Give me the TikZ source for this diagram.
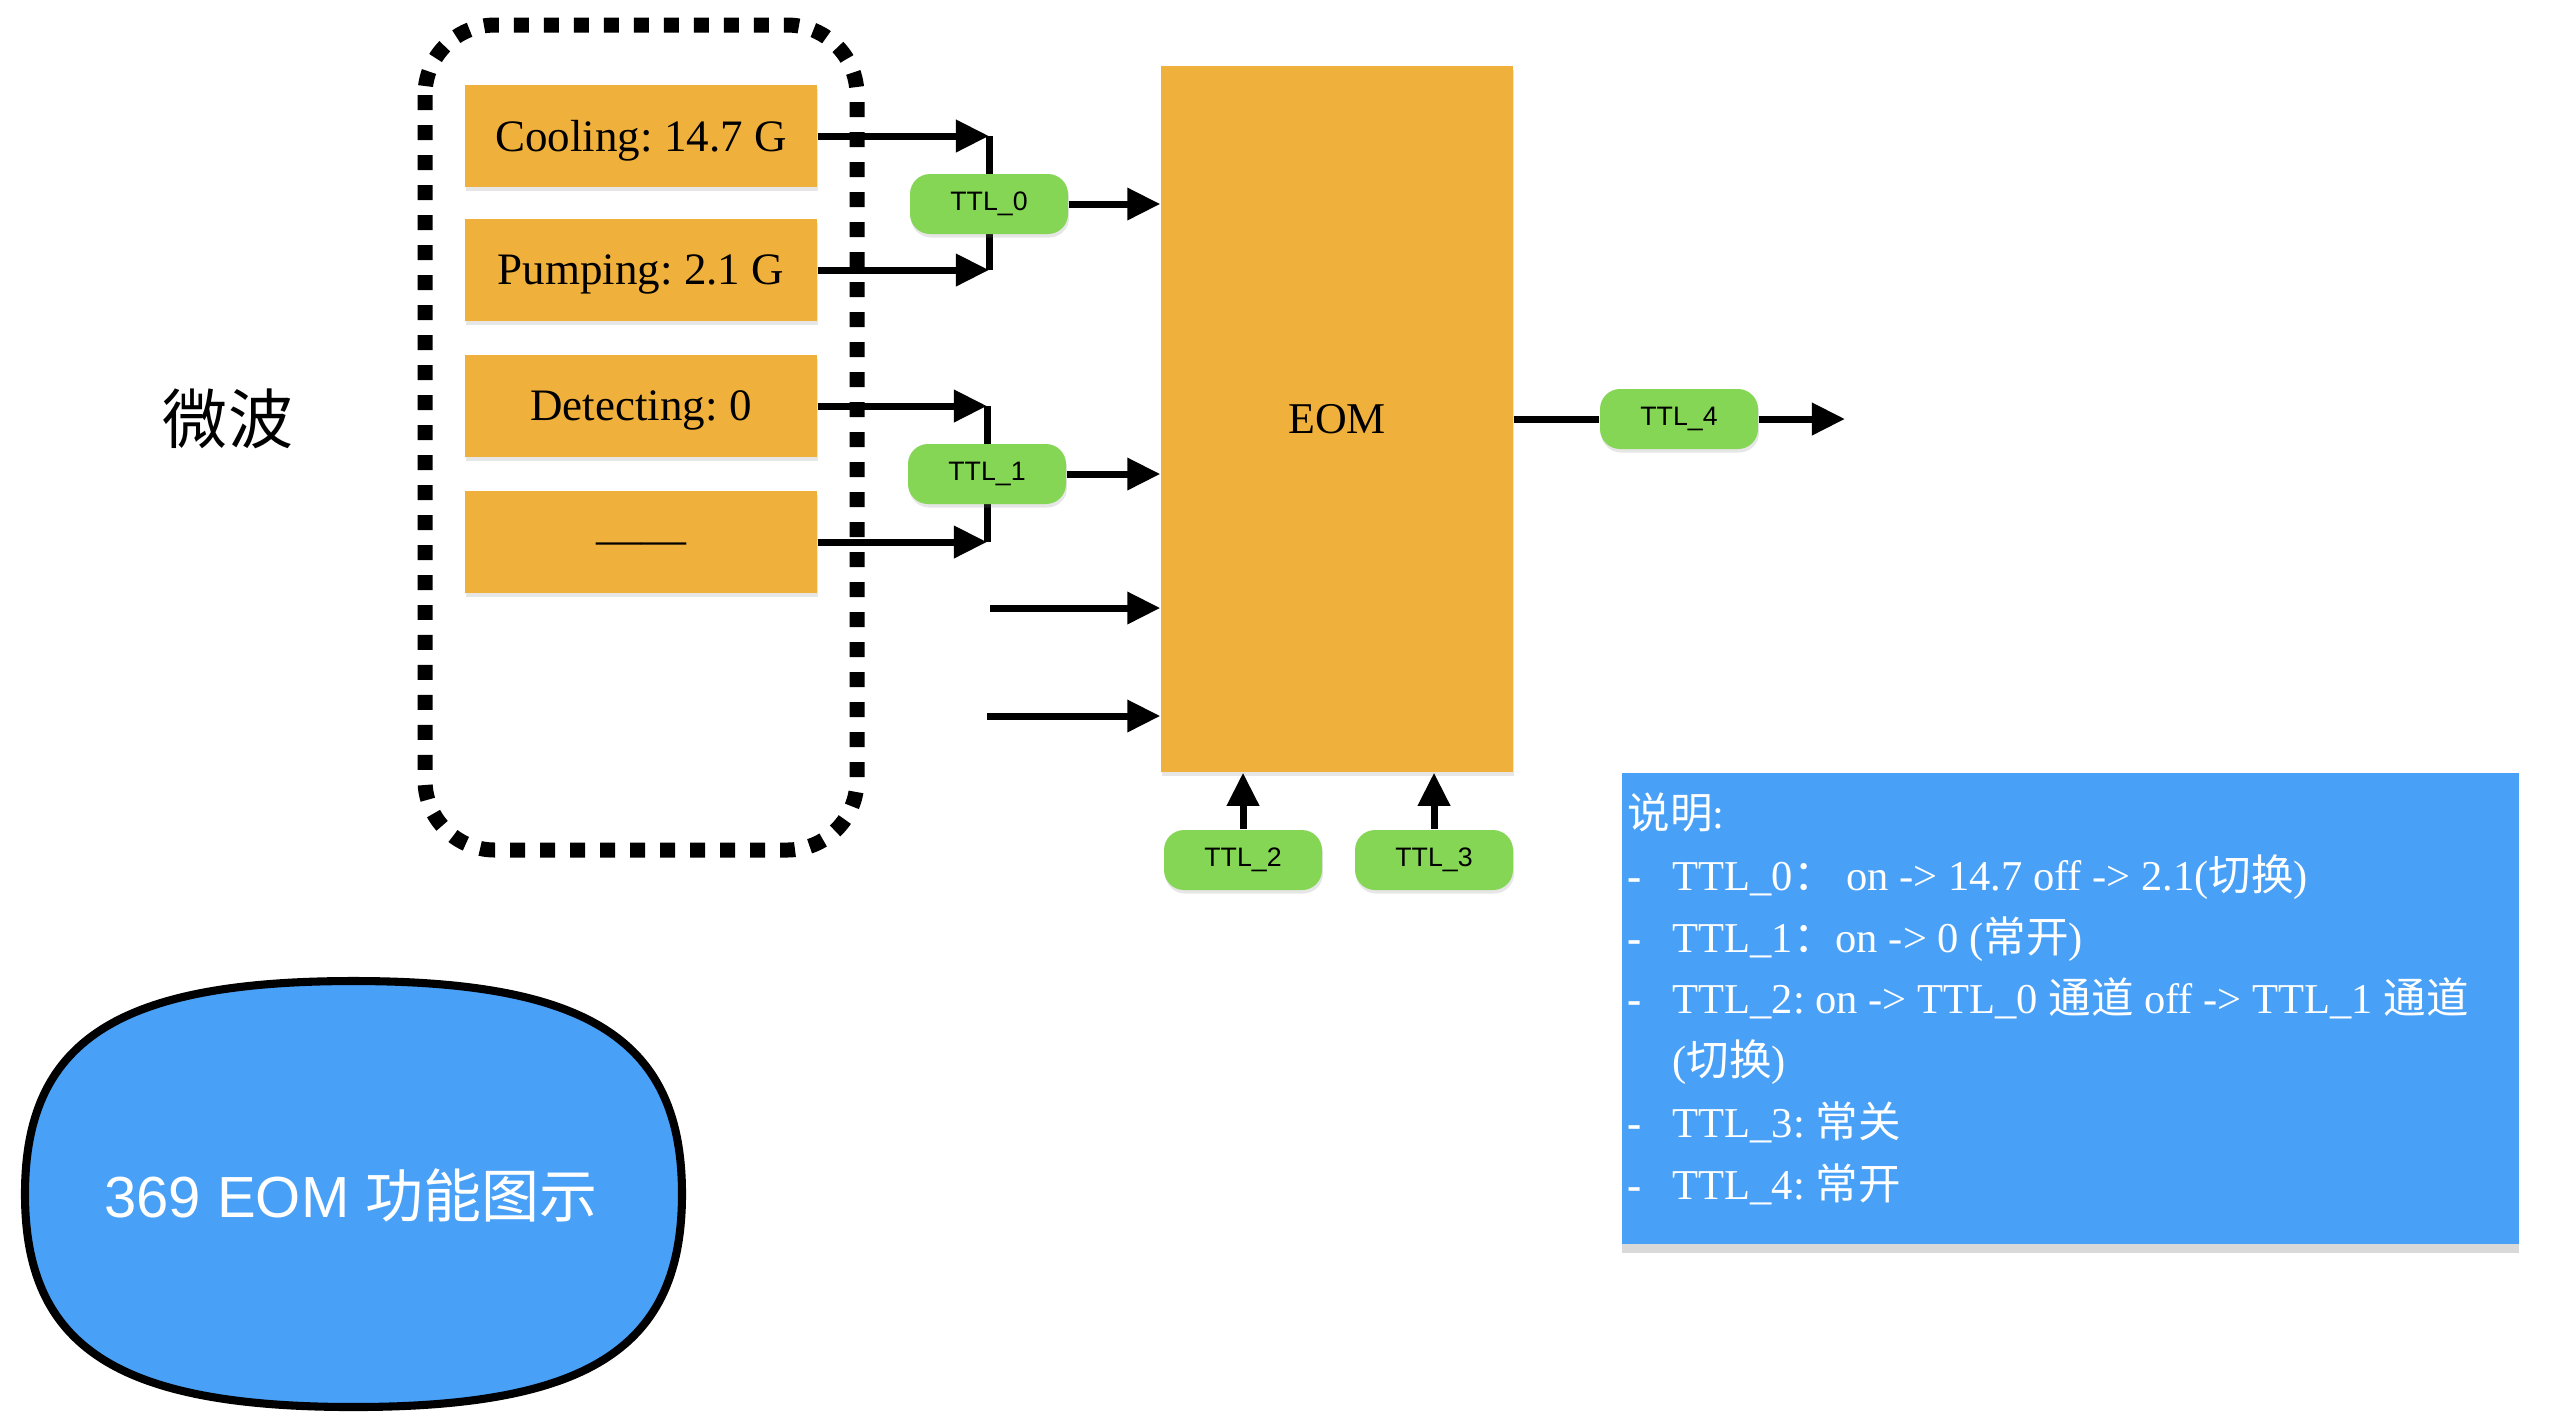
\documentclass[tikz,border=0pt]{standalone}
\usepackage{fontspec}
\setmainfont{Liberation Serif}
\setsansfont{Liberation Sans}
\newfontfamily\cjk{Noto Sans CJK SC}
\usetikzlibrary{arrows.meta, positioning, shadows, backgrounds}
\definecolor{boxorange}{HTML}{F0B03C}
\definecolor{ttlgreen}{HTML}{84D654}
\definecolor{noteblue}{HTML}{49A0F7}
\frenchspacing

\tikzset{
  srcbox/.style={fill=boxorange, minimum width=3.52cm, minimum height=1.02cm, inner sep=0pt,
    text depth=0pt, font=\fontsize{12.8}{15}\selectfont,
    drop shadow={opacity=0.2, shadow xshift=0.3pt, shadow yshift=-1.2pt}},
  ttl/.style={fill=ttlgreen, rounded corners=0.2cm, minimum width=1.58cm, minimum height=0.6cm,
    inner sep=0pt, font=\sffamily\fontsize{7.6}{9}\selectfont,
    drop shadow={opacity=0.2, shadow xshift=0.3pt, shadow yshift=-1pt}},
  wire/.style={line width=2pt},
  sig/.style={wire, -{Triangle[length=9.4pt, width=8.8pt]}},
}

\begin{document}
\begin{tikzpicture}
  \useasboundingbox (0,0) rectangle (25.58,-14.16);

  % microwave sources
  \draw[line width=0.15cm, dash pattern=on 0.15cm off 0.15cm, rounded corners=0.7cm]
    (4.25,-0.25) rectangle (8.57,-8.5);
  \node[font=\cjk\fontsize{18.5}{20}\selectfont] (mw) at (2.28,-4.19) {微波};
  \foreach \name/\y/\txt in {cool/1.36/{Cooling: 14.7 G}, pump/2.70/{Pumping: 2.1 G},
      det/4.06/{Detecting: 0}, spare/5.42/{\smash{\raisebox{-3.5pt}{——}}}}
    \node[srcbox] (\name) at (6.41,-\y) {\txt};

  % modulator
  \node[srcbox, minimum height=7.06cm, font=\fontsize{12.5}{15}\selectfont] (eom) at (13.37,-4.19) {EOM};

  % ttl switches
  \node[ttl] (tt0) at (9.89,-2.04) {TTL\_0};
  \node[ttl] (tt1) at (9.87,-4.74) {TTL\_1};
  \node[ttl] (tt2) at (12.43,-8.60) {TTL\_2};
  \node[ttl] (tt3) at (14.34,-8.60) {TTL\_3};
  \node[ttl] (tt4) at (16.79,-4.19) {TTL\_4};

  \begin{scope}[on background layer]
    \draw[wire] (cool.east -| tt0) -- (pump.east -| tt0);
    \draw[wire] (det.east -| tt1) -- (spare.east -| tt1);
  \end{scope}
  \foreach \src/\t in {cool/tt0, pump/tt0, det/tt1, spare/tt1}
    \draw[sig] (\src.east) -- (\src.east -| \t);
  \draw[sig] (tt0) -- (tt0 -| eom.west);
  \draw[sig] (tt1) -- (tt1 -| eom.west);
  \coordinate (in2) at (9.90,-6.08);
  \coordinate (in3) at (9.87,-7.16);
  \draw[sig] (in2) -- (in2 -| eom.west);
  \draw[sig] (in3) -- (in3 -| eom.west);
  \draw[sig] (tt2) -- (tt2 |- eom.south);
  \draw[sig] (tt3) -- (tt3 |- eom.south);
  \draw[wire] (eom) -- (tt4);
  \coordinate (out) at (18.45,-4.19);
  \draw[sig] (tt4) -- (out);

  % notes
  \node[fill=noteblue, minimum width=8.97cm, minimum height=4.71cm, anchor=north west, inner sep=0pt,
    drop shadow={opacity=0.3, shadow xshift=0pt, shadow yshift=-2.5pt}] (note) at (16.21,-7.72) {};
  \node[anchor=north west, text=white, align=left, inner sep=0pt,
    font=\fontsize{12.1}{17.6}\selectfont] (notetext) at (16.27,-7.92)
    {{\cjk 说明}:\\
     \makebox[12.8pt][l]{\textbf{-}}TTL\_0{\cjk ：}~on -> 14.7 off -> 2.1({\cjk 切换})\\
     \makebox[12.8pt][l]{\textbf{-}}TTL\_1{\cjk ：}on -> 0 ({\cjk 常开})\\
     \makebox[12.8pt][l]{\textbf{-}}TTL\_2: on -> TTL\_0 {\cjk 通道} off -> TTL\_1 {\cjk 通道}\\
     \makebox[12.8pt][l]{}({\cjk 切换})\\
     \makebox[12.8pt][l]{\textbf{-}}TTL\_3: {\cjk 常关}\\
     \makebox[12.8pt][l]{\textbf{-}}TTL\_4: {\cjk 常开}};

  % title blob
  \draw[line width=2.3pt, fill=noteblue] (6.82,-11.94)
    .. controls (6.82,-10.41) and (5.90,-9.81) .. (3.535,-9.81)
    .. controls (1.17,-9.81) and (0.25,-10.41) .. (0.25,-11.94)
    .. controls (0.25,-13.47) and (1.17,-14.07) .. (3.535,-14.07)
    .. controls (5.90,-14.07) and (6.82,-13.47) .. cycle;
  \node[text=white, font=\sffamily\fontsize{16.5}{18}\selectfont] (title) at (3.51,-11.95)
    {369 EOM {\cjk 功能图示}};
\end{tikzpicture}
\end{document}
